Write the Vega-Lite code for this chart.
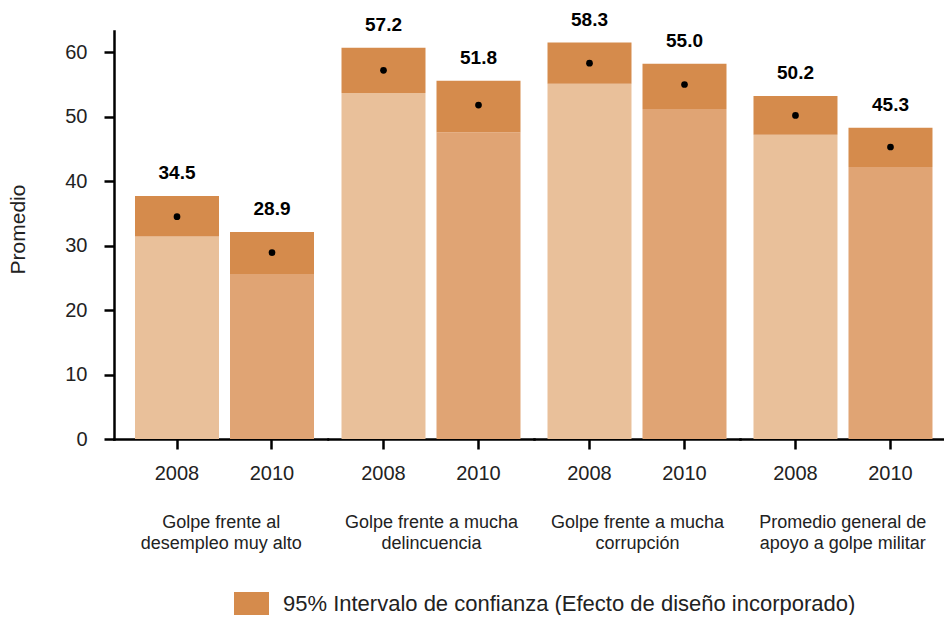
{
  "$schema": "https://vega.github.io/schema/vega-lite/v6.json",
  "padding": {"left": 7, "top": 10, "right": 0, "bottom": 0},
  "spacing": 0,
  "data": {"values": [
    {"group": "g1", "year": "2008", "mean": 34.5, "lo": 31.4, "hi": 37.7},
    {"group": "g1", "year": "2010", "mean": 28.9, "lo": 25.6, "hi": 32.1},
    {"group": "g2", "year": "2008", "mean": 57.2, "lo": 53.7, "hi": 60.7},
    {"group": "g2", "year": "2010", "mean": 51.8, "lo": 47.6, "hi": 55.6},
    {"group": "g3", "year": "2008", "mean": 58.3, "lo": 55.1, "hi": 61.5},
    {"group": "g3", "year": "2010", "mean": 55.0, "lo": 51.2, "hi": 58.2},
    {"group": "g4", "year": "2008", "mean": 50.2, "lo": 47.2, "hi": 53.2},
    {"group": "g4", "year": "2010", "mean": 45.3, "lo": 42.2, "hi": 48.3}
  ]},
  "resolve": {"scale": {"x": "independent", "y": "independent"}, "axis": {"x": "independent", "y": "independent"}},
  "hconcat": [
    {
      "width": 213.5, "height": 408,
      "transform": [{"filter": {"field": "group", "equal": "g1"}}],
      "encoding": {"x": {"field": "year", "type": "nominal", "scale": {"paddingInner": 0.1158, "paddingOuter": 0.1816, "align": 0.6087}, "axis": {"title": ["Golpe frente al", "desempleo muy alto"]}}},
      "layer": [
        {"mark": {"type": "bar"}, "encoding": {
          "y": {"field": "lo", "type": "quantitative", "scale": {"domain": [0, 63.3], "nice": false}, "axis": {"title": "Promedio", "values": [0, 10, 20, 30, 40, 50, 60], "titleY": 198}},
          "fill": {"field": "year", "type": "nominal", "scale": {"domain": ["2008", "2010"], "range": ["#E9C09A", "#E0A474"]}, "legend": null}}},
        {"mark": {"type": "bar"}, "encoding": {
          "y": {"field": "lo", "type": "quantitative", "scale": {"domain": [0, 63.3], "nice": false}, "axis": {"title": "Promedio"}},
          "y2": {"field": "hi"},
          "color": {"datum": "95% Intervalo de confianza (Efecto de diseño incorporado)", "type": "nominal", "scale": {"range": ["#D58B4C"]}, "legend": {"title": null}}}},
        {"mark": {"type": "point", "filled": true, "color": "black", "opacity": 1, "size": 45}, "encoding": {
          "y": {"field": "mean", "type": "quantitative", "scale": {"domain": [0, 63.3], "nice": false}, "axis": {"title": "Promedio"}}}},
        {"mark": {"type": "text", "dy": -17, "baseline": "alphabetic", "fontWeight": "bold", "fontSize": 19, "color": "black"}, "encoding": {
          "y": {"field": "hi", "type": "quantitative", "scale": {"domain": [0, 63.3], "nice": false}, "axis": {"title": "Promedio"}},
          "text": {"field": "mean", "type": "quantitative", "format": ".1f"}}}
      ]
    },
    {
      "width": 206, "height": 408,
      "transform": [{"filter": {"field": "group", "equal": "g2"}}],
      "encoding": {"x": {"field": "year", "type": "nominal", "scale": {"paddingInner": 0.1158, "paddingOuter": 0.1421, "align": 0.5}, "axis": {"title": ["Golpe frente a mucha", "delincuencia"]}}},
      "layer": [
        {"mark": {"type": "bar"}, "encoding": {
          "y": {"field": "lo", "type": "quantitative", "scale": {"domain": [0, 63.3], "nice": false}, "axis": null},
          "fill": {"field": "year", "type": "nominal", "scale": {"domain": ["2008", "2010"], "range": ["#E9C09A", "#E0A474"]}, "legend": null}}},
        {"mark": {"type": "bar"}, "encoding": {
          "y": {"field": "lo", "type": "quantitative", "scale": {"domain": [0, 63.3], "nice": false}, "axis": null},
          "y2": {"field": "hi"},
          "color": {"datum": "95% Intervalo de confianza (Efecto de diseño incorporado)", "type": "nominal", "scale": {"range": ["#D58B4C"]}, "legend": {"title": null}}}},
        {"mark": {"type": "point", "filled": true, "color": "black", "opacity": 1, "size": 45}, "encoding": {
          "y": {"field": "mean", "type": "quantitative", "scale": {"domain": [0, 63.3], "nice": false}, "axis": null}}},
        {"mark": {"type": "text", "dy": -17, "baseline": "alphabetic", "fontWeight": "bold", "fontSize": 19, "color": "black"}, "encoding": {
          "y": {"field": "hi", "type": "quantitative", "scale": {"domain": [0, 63.3], "nice": false}, "axis": null},
          "text": {"field": "mean", "type": "quantitative", "format": ".1f"}}}
      ]
    },
    {
      "width": 206, "height": 408,
      "transform": [{"filter": {"field": "group", "equal": "g3"}}],
      "encoding": {"x": {"field": "year", "type": "nominal", "scale": {"paddingInner": 0.1158, "paddingOuter": 0.1421, "align": 0.5}, "axis": {"title": ["Golpe frente a mucha", "corrupción"]}}},
      "layer": [
        {"mark": {"type": "bar"}, "encoding": {
          "y": {"field": "lo", "type": "quantitative", "scale": {"domain": [0, 63.3], "nice": false}, "axis": null},
          "fill": {"field": "year", "type": "nominal", "scale": {"domain": ["2008", "2010"], "range": ["#E9C09A", "#E0A474"]}, "legend": null}}},
        {"mark": {"type": "bar"}, "encoding": {
          "y": {"field": "lo", "type": "quantitative", "scale": {"domain": [0, 63.3], "nice": false}, "axis": null},
          "y2": {"field": "hi"},
          "color": {"datum": "95% Intervalo de confianza (Efecto de diseño incorporado)", "type": "nominal", "scale": {"range": ["#D58B4C"]}, "legend": {"title": null}}}},
        {"mark": {"type": "point", "filled": true, "color": "black", "opacity": 1, "size": 45}, "encoding": {
          "y": {"field": "mean", "type": "quantitative", "scale": {"domain": [0, 63.3], "nice": false}, "axis": null}}},
        {"mark": {"type": "text", "dy": -17, "baseline": "alphabetic", "fontWeight": "bold", "fontSize": 19, "color": "black"}, "encoding": {
          "y": {"field": "hi", "type": "quantitative", "scale": {"domain": [0, 63.3], "nice": false}, "axis": null},
          "text": {"field": "mean", "type": "quantitative", "format": ".1f"}}}
      ]
    },
    {
      "width": 204.5, "height": 408,
      "transform": [{"filter": {"field": "group", "equal": "g4"}}],
      "encoding": {"x": {"field": "year", "type": "nominal", "scale": {"paddingInner": 0.1158, "paddingOuter": 0.1342, "align": 0.529}, "axis": {"title": ["Promedio general de", "apoyo a golpe militar"]}}},
      "layer": [
        {"mark": {"type": "bar"}, "encoding": {
          "y": {"field": "lo", "type": "quantitative", "scale": {"domain": [0, 63.3], "nice": false}, "axis": null},
          "fill": {"field": "year", "type": "nominal", "scale": {"domain": ["2008", "2010"], "range": ["#E9C09A", "#E0A474"]}, "legend": null}}},
        {"mark": {"type": "bar"}, "encoding": {
          "y": {"field": "lo", "type": "quantitative", "scale": {"domain": [0, 63.3], "nice": false}, "axis": null},
          "y2": {"field": "hi"},
          "color": {"datum": "95% Intervalo de confianza (Efecto de diseño incorporado)", "type": "nominal", "scale": {"range": ["#D58B4C"]}, "legend": {"title": null}}}},
        {"mark": {"type": "point", "filled": true, "color": "black", "opacity": 1, "size": 45}, "encoding": {
          "y": {"field": "mean", "type": "quantitative", "scale": {"domain": [0, 63.3], "nice": false}, "axis": null}}},
        {"mark": {"type": "text", "dy": -17, "baseline": "alphabetic", "fontWeight": "bold", "fontSize": 19, "color": "black"}, "encoding": {
          "y": {"field": "hi", "type": "quantitative", "scale": {"domain": [0, 63.3], "nice": false}, "axis": null},
          "text": {"field": "mean", "type": "quantitative", "format": ".1f"}}}
      ]
    }
  ],
  "config": {
    "font": "Liberation Sans",
    "view": {"stroke": null},
    "bar": {"stroke": null},
    "axis": {
      "grid": false,
      "domainColor": "black", "domainWidth": 2.5,
      "tickColor": "black", "tickWidth": 2.5, "tickSize": 10,
      "labelFont": "Liberation Sans", "labelFontSize": 20, "labelColor": "#222",
      "titleFont": "Liberation Sans", "titleFontWeight": "normal", "titleColor": "#222"
    },
    "axisX": {"labelAngle": 0, "labelPadding": 14, "titleFontSize": 18, "titlePadding": 30, "titleLineHeight": 21, "domainCap": "square"},
    "axisY": {"labelPadding": 17, "titleFontSize": 21, "titlePadding": 36, "domainCap": "square"},
    "legend": {
      "orient": "none", "legendX": 120, "legendY": 555, "padding": 0,
      "labelFont": "Liberation Sans", "labelFontSize": 22, "labelColor": "#222", "labelLimit": 800,
      "symbolType": "M-1,-0.657H1V0.657H-1Z", "symbolSize": 1225, "symbolStrokeWidth": 0, "symbolOpacity": 1,
      "labelOffset": 14
    }
  }
}
